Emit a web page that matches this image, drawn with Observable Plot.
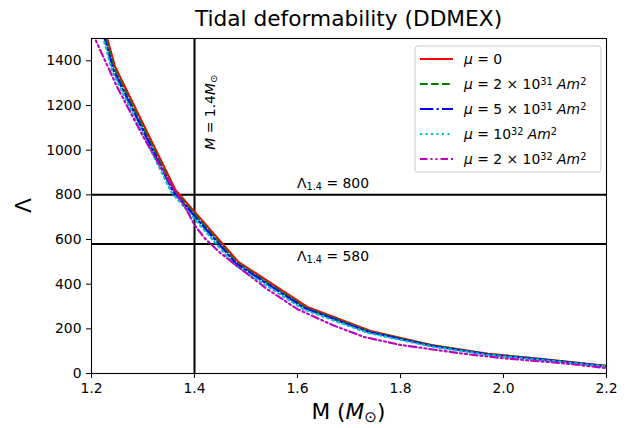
<!DOCTYPE html>
<html><head><meta charset="utf-8">
<script src="https://cdn.jsdelivr.net/npm/d3@7"></script>
<script src="https://cdn.jsdelivr.net/npm/@observablehq/plot@0.6"></script>
<style>
body{margin:0;background:#fff;}
svg{display:block;}
</style>
</head><body><div id="chart"></div>
<script>
// ---- data ----
const masses0 = [1.2, 1.246, 1.363, 1.485, 1.619, 1.742, 1.86, 1.97, 2.08, 2.2];
const lambda0 = [1750, 1372, 822, 500, 298, 190, 128, 88, 64, 34];
const masses1 = [1.2, 1.244, 1.36, 1.482, 1.616, 1.74, 1.86, 1.97, 2.08, 2.2];
const lambda1 = [1740, 1366, 820, 497, 295, 188, 126, 87, 63, 33];
const masses2 = [1.2, 1.242, 1.358, 1.48, 1.614, 1.738, 1.86, 1.97, 2.08, 2.2];
const lambda2 = [1720, 1360, 816, 493, 292, 186, 124, 85, 61, 32];
const masses3 = [1.2, 1.24, 1.355, 1.477, 1.611, 1.735, 1.86, 1.97, 2.08, 2.2];
const lambda3 = [1700, 1355, 812, 488, 288, 183, 121, 83, 59, 31];
const masses4 = [1.2, 1.25, 1.3, 1.35, 1.38, 1.4, 1.42, 1.45, 1.5, 1.54, 1.6, 1.67, 1.73, 1.8, 1.85, 1.92, 2.0, 2.12, 2.2];
const lambda4 = [1533, 1282, 1062, 862, 752, 665, 605, 540, 450, 380, 288, 215, 163, 128, 112, 89, 68, 45, 24];

const seriesMasses = [masses0, masses1, masses2, masses3, masses4];
const seriesLambdas = [lambda0, lambda1, lambda2, lambda3, lambda4];
const seriesColors = ["#ff0000", "#008000", "#0000ff", "#00bfbf", "#bf00bf"];
const seriesDash = [null, "7.7,3.3", "13.3,3.3,2.1,3.3", "2.1,3.4", "7.5,3,2,3,2,3"];
// legend labels as rich-text parts
const seriesLabels = [
  [{t:"μ",i:1},{t:" = 0"}],
  [{t:"μ",i:1},{t:" = 2 × 10"},{t:"31",sup:1},{t:" "},{t:"Am",i:1},{t:"2",sup:1}],
  [{t:"μ",i:1},{t:" = 5 × 10"},{t:"31",sup:1},{t:" "},{t:"Am",i:1},{t:"2",sup:1}],
  [{t:"μ",i:1},{t:" = 10"},{t:"32",sup:1},{t:" "},{t:"Am",i:1},{t:"2",sup:1}],
  [{t:"μ",i:1},{t:" = 2 × 10"},{t:"32",sup:1},{t:" "},{t:"Am",i:1},{t:"2",sup:1}]
];
const xTicks = [1.2, 1.4, 1.6, 1.8, 2.0, 2.2];
const yTicks = [0, 200, 400, 600, 800, 1000, 1200, 1400];
const refMass = [1.4];
const refLambda = [800, 580];
const titleText = "Tidal deformability (DDMEX)";

// ---- build table ----
const rows = [];
seriesMasses.forEach((ms, s) => ms.forEach((m, k) => rows.push({s, M: m, L: seriesLambdas[s][k]})));

const W = 631, H = 428;
const FONT = "DejaVu Sans, sans-serif";
const BIG = 21.7;

const marks = [
  Plot.ruleX(refMass, {stroke: "black", strokeWidth: 2}),
  Plot.ruleY(refLambda, {stroke: "black", strokeWidth: 2})
];
seriesMasses.forEach((_, s) => {
  marks.push(Plot.line(rows.filter(d => d.s === s), {
    x: "M", y: "L", stroke: seriesColors[s], strokeWidth: 2.1,
    strokeDasharray: seriesDash[s] || undefined, clip: true
  }));
});
marks.push(Plot.axisX({ticks: xTicks, tickFormat: d3.format(".1f"), tickSize: 5, tickPadding: 5, label: null, fontSize: 13.9}));
marks.push(Plot.axisY({ticks: yTicks, tickFormat: d => String(d), tickSize: 5, tickPadding: 5, label: null, fontSize: 13.9}));
marks.push(Plot.frame({stroke: "black", strokeWidth: 1.1}));

const plot = Plot.plot({
  width: W, height: H,
  marginLeft: 91, marginRight: 25, marginTop: 38, marginBottom: 55,
  x: {domain: [1.2, 2.2]},
  y: {domain: [0, 1500]},
  style: {fontFamily: FONT, fontSize: "13.9px", color: "black", background: "white"},
  marks
});
document.getElementById("chart").appendChild(plot);

const sx = plot.scale("x"), sy = plot.scale("y");
const svg = d3.select(plot);

function richText(sel, parts, size) {
  parts.forEach(p => {
    const ts = sel.append("tspan").text(p.t);
    if (p.i) ts.attr("font-style", "italic");
    if (p.sup) ts.attr("font-size", size * 0.7).attr("baseline-shift", "40%");
    if (p.sub) ts.attr("font-size", size * 0.7).attr("baseline-shift", "-20%");
  });
}

// title
svg.append("text").attr("x", (sx.apply(1.2) + sx.apply(2.2)) / 2).attr("y", 26)
  .attr("text-anchor", "middle").attr("font-family", FONT).attr("font-size", BIG)
  .attr("fill", "black").text(titleText);

// x label
const xl = svg.append("text").attr("x", (sx.apply(1.2) + sx.apply(2.2)) / 2).attr("y", 419)
  .attr("text-anchor", "middle").attr("font-family", FONT).attr("font-size", BIG).attr("fill", "black");
richText(xl, [{t:"M ("},{t:"M",i:1},{t:"⊙",sub:1},{t:")"}], BIG);

// y label (rotated Λ)
svg.append("text").attr("transform", `translate(31,${(sy.apply(0) + sy.apply(1500)) / 2}) rotate(-90)`)
  .attr("text-anchor", "middle").attr("font-family", FONT).attr("font-size", BIG)
  .attr("fill", "black").text("Λ");

// annotations
const annSize = 13.9;
const vtext = svg.append("text")
  .attr("transform", `translate(${sx.apply(1.42) + 11},${sy.apply(1000)}) rotate(-90)`)
  .attr("text-anchor", "start")
  .attr("font-family", FONT).attr("font-size", annSize).attr("fill", "black");
richText(vtext, [{t:"M",i:1},{t:" = 1.4"},{t:"M",i:1},{t:"⊙",sub:1}], annSize);

[[830, "800"], [500, "580"]].forEach(([yv, lab]) => {
  const t = svg.append("text").attr("x", sx.apply(1.6)).attr("y", sy.apply(yv))
    .attr("text-anchor", "start")
    .attr("font-family", FONT).attr("font-size", annSize).attr("fill", "black");
  richText(t, [{t:"Λ"},{t:"1.4",sub:1},{t:" = " + lab}], annSize);
});

// legend
const lg = svg.append("g");
const lx = 415, ly = 46, lw = 186, lh = 126;
lg.append("rect").attr("x", lx).attr("y", ly).attr("width", lw).attr("height", lh)
  .attr("rx", 3).attr("fill", "white").attr("fill-opacity", 0.8)
  .attr("stroke", "#cccccc").attr("stroke-width", 1);
seriesLabels.forEach((parts, s) => {
  const yy = 59 + s * 25;
  lg.append("line").attr("x1", 420).attr("x2", 453).attr("y1", yy).attr("y2", yy)
    .attr("stroke", seriesColors[s]).attr("stroke-width", 2.1)
    .attr("stroke-dasharray", seriesDash[s]);
  const t = lg.append("text").attr("x", 464).attr("y", yy + 5)
    .attr("text-anchor", "start")
    .attr("font-family", FONT).attr("font-size", 13.9).attr("fill", "black");
  richText(t, parts, 13.9);
});
</script>
</body></html>
